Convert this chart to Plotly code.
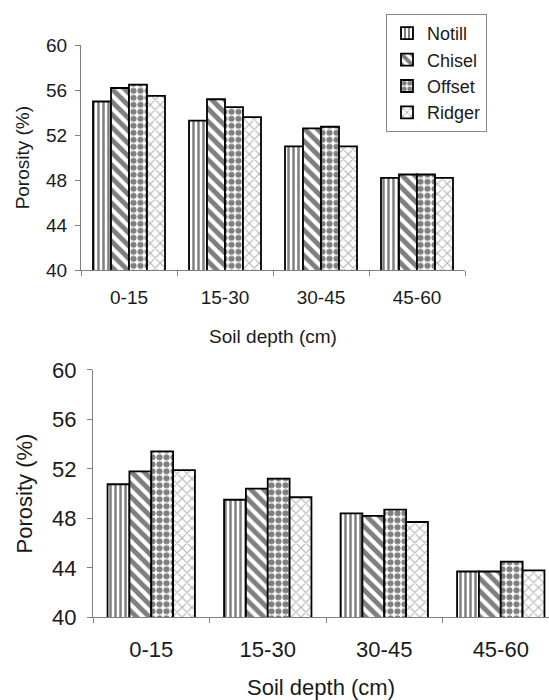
import plotly.graph_objects as go

depths = ["0-15", "15-30", "30-45", "45-60"]
series_names = ["Notill", "Chisel", "Offset", "Ridger"]

top_values = {
    "Notill": [55.0, 53.3, 51.0, 48.2],
    "Chisel": [56.2, 55.2, 52.6, 48.5],
    "Offset": [56.5, 54.5, 52.75, 48.5],
    "Ridger": [55.5, 53.6, 51.0, 48.2],
}
bottom_values = {
    "Notill": [50.75, 49.5, 48.4, 43.7],
    "Chisel": [51.8, 50.4, 48.2, 43.7],
    "Offset": [53.4, 51.2, 48.7, 44.5],
    "Ridger": [51.9, 49.7, 47.7, 43.8],
}
y_ticks = [40, 44, 48, 52, 56, 60]

patterns = {
    "Notill": dict(shape="|", fgcolor="black", bgcolor="white", size=5, solidity=0.5),
    "Chisel": dict(shape="\\", fgcolor="black", bgcolor="white", size=9, solidity=0.55),
    "Offset": dict(shape=".", fgcolor="black", bgcolor="white", size=7, solidity=0.6),
    "Ridger": dict(shape="x", fgcolor="#666666", bgcolor="white", size=7, solidity=0.3),
}

FONT = "Arial, 'Liberation Sans', sans-serif"
TXT = "#1a1a1a"
AX = "#808080"

fig = go.Figure()
for name in series_names:
    fig.add_trace(go.Bar(
        x=depths, y=top_values[name], name=name,
        marker=dict(color="white", line=dict(color="black", width=1.8),
                    pattern=patterns[name]),
        xaxis="x", yaxis="y", showlegend=True,
    ))
for name in series_names:
    fig.add_trace(go.Bar(
        x=depths, y=bottom_values[name], name=name,
        marker=dict(color="white", line=dict(color="black", width=1.8),
                    pattern=patterns[name]),
        xaxis="x2", yaxis="y2", showlegend=False,
    ))

def yax(domain, size, anchor, lstand, standoff):
    return dict(
        domain=domain, range=[40, 60], tickvals=y_ticks, anchor=anchor,
        automargin=False,
        showgrid=False, zeroline=False, showline=True, linecolor=AX, linewidth=1,
        ticks="outside", ticklen=5, tickcolor=AX, ticklabelstandoff=lstand,
        tickfont=dict(family=FONT, size=size, color=TXT),
        title=dict(text="Porosity (%)", font=dict(family=FONT, size=size, color=TXT),
                   standoff=standoff),
    )

def xax(domain, size, anchor, rng, lstand, standoff):
    return dict(
        domain=domain, type="category", range=rng, anchor=anchor,
        automargin=False,
        showgrid=False, zeroline=False, showline=True, linecolor=AX, linewidth=1,
        ticks="outside", ticklen=5, tickcolor=AX, tickson="boundaries",
        ticklabelstandoff=lstand,
        tickfont=dict(family=FONT, size=size, color=TXT),
        title=dict(text="Soil depth (cm)", font=dict(family=FONT, size=size, color=TXT),
                   standoff=standoff),
    )

fig.update_layout(
    width=549, height=700,
    margin=dict(l=0, r=0, t=0, b=0, autoexpand=False),
    paper_bgcolor="white", plot_bgcolor="white",
    barmode="group", bargap=0.25, bargroupgap=0,
    xaxis=xax([81/549, 465/549], 19, "y", [-0.5, 3.5], 10, 22),
    yaxis=yax([1 - 270/700, 1 - 45.3/700], 19, "x", 4, 11),
    xaxis2=xax([93/549, 1.0], 22, "y2", [-0.5, 3.414], 12, 22),
    yaxis2=yax([1 - 617.3/700, 1 - 369.8/700], 22, "x2", 6, 13),
    legend=dict(x=386/549, y=1 - 14/700, xanchor="left", yanchor="top",
                bordercolor="#888888", borderwidth=1, bgcolor="white",
                font=dict(family=FONT, size=18, color=TXT), tracegroupgap=0,
                itemwidth=30),
    font=dict(family=FONT, color=TXT),
)

fig.write_html("out.html")
